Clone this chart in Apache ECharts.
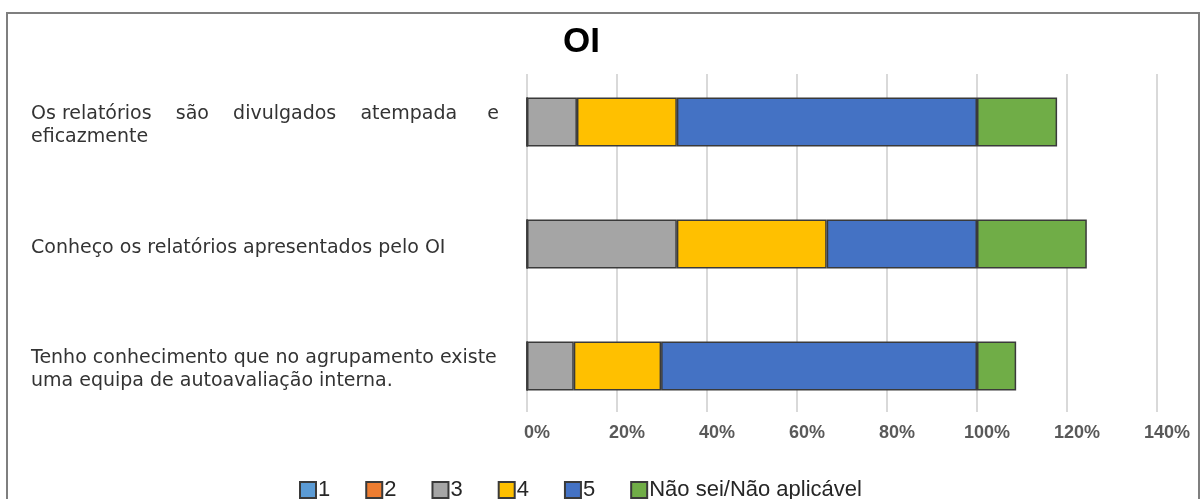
<!DOCTYPE html>
<html>
<head>
<meta charset="utf-8">
<title>OI</title>
<script src="https://cdn.jsdelivr.net/npm/echarts@6/dist/echarts.min.js"></script>
<style>
  html, body { margin: 0; padding: 0; background: #ffffff; }
  #chart { width: 1202px; height: 499px; }
</style>
</head>
<body>
<div id="chart"></div>
<script>
// Survey statements (top to bottom)
const categories = [
  'Os relatórios    são    divulgados    atempada     e\neficazmente',
  'Conheço os relatórios apresentados pelo OI',
  'Tenho conhecimento que no agrupamento existe\numa equipa de autoavaliação interna.'
];

// Share of answers per rating, in percent
const seriesNames = ['1', '2', '3', '4', '5', 'Não sei/Não aplicável'];
const values1 = [0, 0, 0];
const values2 = [0, 0, 0];
const values3 = [11.1, 33.3, 10.4];
const values4 = [22.2, 33.3, 19.4];
const values5 = [66.7, 33.4, 70.2];
const valuesNS = [17.8, 24.4, 8.7];

const seriesColors = ['#5B9BD5', '#ED7D31', '#A5A5A5', '#FFC000', '#4472C4', '#70AD47'];
const tickLabels = ['0%', '20%', '40%', '60%', '80%', '100%', '120%', '140%'];

const allValues = [values1, values2, values3, values4, values5, valuesNS];

const chart = echarts.init(document.getElementById('chart'));

const plotLeft = 527;
const plotWidth = 630;

const hiddenValueAxis = function (gridIndex) {
  return {
    gridIndex: gridIndex, type: 'value', min: 0, max: 140, interval: 20,
    axisLine: { show: false }, axisTick: { show: false },
    axisLabel: { show: false }, splitLine: { show: false }
  };
};

const option = {
  animation: false,
  title: {
    text: 'OI',
    left: 558,
    top: 20,
    textStyle: { fontFamily: 'Liberation Sans, Arial, sans-serif', fontSize: 35, fontWeight: 'bold', color: '#000000' }
  },
  graphic: [{
    type: 'rect',
    shape: { x: 7, y: 13, width: 1192, height: 500 },
    style: { fill: 'none', stroke: '#7f7f7f', lineWidth: 2 },
    silent: true,
    z: -1
  }],
  legend: {
    data: seriesNames,
    left: 294,
    top: 474,
    itemWidth: 16,
    itemHeight: 16,
    itemGap: 35,
    icon: 'rect',
    textStyle: { fontFamily: 'Liberation Sans, Arial, sans-serif', fontSize: 22, color: '#262626', padding: [0, 0, 0, -3] }
  },
  grid: [
    // bars
    { left: plotLeft, width: plotWidth, top: 61, height: 366 },
    // gridlines and percent ticks
    { left: plotLeft, width: plotWidth, top: 74, height: 338 },
    // statement labels
    { left: plotLeft, width: plotWidth, top: 65, height: 366 }
  ],
  xAxis: [
    hiddenValueAxis(0),
    {
      gridIndex: 1, type: 'value', min: 0, max: 140, interval: 20,
      axisLine: { show: false }, axisTick: { show: false },
      splitLine: { show: true, lineStyle: { color: '#d9d9d9', width: 2 } },
      axisLabel: {
        margin: 12,
        padding: [0, 0, 0, 20],
        fontFamily: 'Liberation Sans, Arial, sans-serif',
        fontSize: 18,
        fontWeight: 'bold',
        color: '#595959',
        formatter: function (v) { return tickLabels[Math.round(v / 20)]; }
      }
    },
    hiddenValueAxis(2)
  ],
  yAxis: [
    {
      gridIndex: 0, type: 'category', data: categories, inverse: true,
      axisLine: { show: false }, axisTick: { show: false },
      axisLabel: { show: false }
    },
    {
      gridIndex: 1, type: 'category', data: categories,
      show: false
    },
    {
      gridIndex: 2, type: 'category', data: categories, inverse: true,
      axisLine: { show: false }, axisTick: { show: false },
      axisLabel: {
        align: 'left',
        margin: plotLeft - 31,
        fontFamily: 'DejaVu Sans, Verdana, sans-serif',
        fontSize: 19,
        lineHeight: 23,
        color: '#333333'
      }
    }
  ],
  series: seriesNames.map(function (name, i) {
    return {
      name: name,
      type: 'bar',
      stack: 'total',
      xAxisIndex: 0,
      yAxisIndex: 0,
      barWidth: 49,
      data: allValues[i],
      itemStyle: { color: seriesColors[i], borderColor: '#3a3a3a', borderWidth: 1.5 },
      emphasis: { disabled: true }
    };
  })
};

chart.setOption(option);
</script>
</body>
</html>
